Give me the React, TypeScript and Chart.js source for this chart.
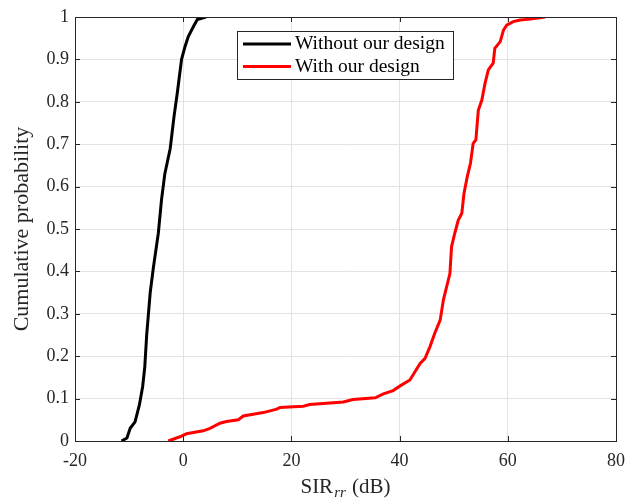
import React, { useEffect, useRef } from "react";
import { Chart, registerables } from "chart.js";

Chart.register(...registerables);

// ---- data ----
const xTickValues = [-20, 0, 20, 40, 60, 80];
const yTickValues = [0, 0.1, 0.2, 0.3, 0.4, 0.5, 0.6, 0.7, 0.8, 0.9, 1];
const seriesLabels = ["Without our design", "With our design"];
const seriesColors = ["#000000", "#ff0000"];

const withoutX = [-11.4, -10.4, -9.8, -8.9, -8.1, -7.5, -7.1, -6.75, -6.1, -5.5, -4.6, -4.0, -3.4, -2.4, -1.7, -1.1, -0.3, 0.33, 0.94, 1.87, 2.6, 4.2];
const withoutY = [0, 0.007, 0.03, 0.045, 0.085, 0.128, 0.175, 0.25, 0.35, 0.41, 0.49, 0.57, 0.63, 0.69, 0.765, 0.82, 0.9, 0.93, 0.954, 0.977, 0.994, 1.0];

const withX = [-2.75, -0.6, 0.6, 3.7, 4.95, 6.8, 8.0, 10.2, 11.1, 14.8, 17.3, 17.9, 22.2, 23.4, 29.6, 31.4, 35.5, 37.0, 38.8, 40.1, 41.9, 43.8, 44.7, 45.6, 46.5, 47.5, 48.1, 48.7, 49.3, 49.6, 50.2, 50.85, 51.5, 51.9, 52.5, 53.1, 53.6, 54.1, 54.55, 55.2, 55.8, 56.4, 57.3, 57.6, 58.6, 59.2, 59.8, 61.0, 62.3, 64.1, 66.9];
const withY = [0, 0.01, 0.017, 0.024, 0.03, 0.042, 0.046, 0.05, 0.059, 0.067, 0.075, 0.079, 0.082, 0.086, 0.092, 0.098, 0.102, 0.111, 0.119, 0.13, 0.144, 0.183, 0.195, 0.222, 0.254, 0.285, 0.333, 0.364, 0.395, 0.458, 0.49, 0.521, 0.537, 0.584, 0.623, 0.655, 0.702, 0.71, 0.78, 0.804, 0.844, 0.875, 0.891, 0.926, 0.942, 0.969, 0.981, 0.989, 0.993, 0.995, 1.0];

const xTitleMain = "SIR";
const xTitleSub = "rr";
const xTitleUnit = " (dB)";
const yTitle = "Cumulative probability";

const FONT = "'Liberation Serif', 'Times New Roman', serif";
const AXIS_COLOR = "#262626";

const toPoints = (xs: number[], ys: number[]) => xs.map((x, i) => ({ x, y: ys[i] }));

const matlabPlugin = {
  id: "matlabDecor",
  afterDraw(chart: any) {
    const ctx: CanvasRenderingContext2D = chart.ctx;
    const { left, right, top, bottom } = chart.chartArea;
    const xs = chart.scales.x;
    const ys = chart.scales.y;
    ctx.save();
    // frame
    ctx.strokeStyle = AXIS_COLOR;
    ctx.lineWidth = 1;
    ctx.strokeRect(Math.round(left) + 0.5, Math.round(top) + 0.5, Math.round(right - left), Math.round(bottom - top));
    // inward ticks
    const tl = 5;
    ctx.beginPath();
    xTickValues.forEach((v) => {
      const px = Math.round(xs.getPixelForValue(v)) + 0.5;
      ctx.moveTo(px, bottom);
      ctx.lineTo(px, bottom - tl);
      ctx.moveTo(px, top);
      ctx.lineTo(px, top + tl);
    });
    yTickValues.forEach((v) => {
      const py = Math.round(ys.getPixelForValue(v)) + 0.5;
      ctx.moveTo(left, py);
      ctx.lineTo(left + tl, py);
      ctx.moveTo(right, py);
      ctx.lineTo(right - tl, py);
    });
    ctx.stroke();

    // x title with subscript
    ctx.fillStyle = AXIS_COLOR;
    ctx.textBaseline = "alphabetic";
    const mainFont = `21px ${FONT}`;
    const subFont = `italic 15px ${FONT}`;
    ctx.font = mainFont;
    const w1 = ctx.measureText(xTitleMain).width;
    const w3 = ctx.measureText(xTitleUnit).width;
    ctx.font = subFont;
    const w2 = ctx.measureText(xTitleSub).width;
    const total = w1 + w2 + w3 + 2;
    let cx = (left + right) / 2 - total / 2;
    const baseY = bottom + 52;
    ctx.textAlign = "left";
    ctx.font = mainFont;
    ctx.fillText(xTitleMain, cx, baseY);
    cx += w1 + 1;
    ctx.font = subFont;
    ctx.fillText(xTitleSub, cx, baseY + 4);
    cx += w2 + 1;
    ctx.font = mainFont;
    ctx.fillText(xTitleUnit, cx, baseY);

    // y title
    ctx.save();
    ctx.translate(22, (top + bottom) / 2);
    ctx.rotate(-Math.PI / 2);
    ctx.textAlign = "center";
    ctx.textBaseline = "middle";
    ctx.font = `22px ${FONT}`;
    ctx.fillText(yTitle, 0, 0);
    ctx.restore();

    // legend box
    const bx = left + 162;
    const by = top + 14;
    const bw = 216;
    const bh = 48;
    ctx.fillStyle = "#ffffff";
    ctx.fillRect(bx, by, bw, bh);
    ctx.strokeStyle = AXIS_COLOR;
    ctx.lineWidth = 1;
    ctx.strokeRect(Math.round(bx) + 0.5, Math.round(by) + 0.5, bw, bh);
    ctx.font = `19.5px ${FONT}`;
    ctx.textAlign = "left";
    ctx.textBaseline = "middle";
    chart.data.datasets.forEach((ds: any, i: number) => {
      const ry = by + 13 + i * 22.5;
      ctx.strokeStyle = ds.borderColor;
      ctx.lineWidth = 3;
      ctx.beginPath();
      ctx.moveTo(bx + 6, ry);
      ctx.lineTo(bx + 54, ry);
      ctx.stroke();
      ctx.fillStyle = "#000000";
      ctx.fillText(ds.label, bx + 58, ry);
    });
    ctx.restore();
  },
};

export default function App() {
  const ref = useRef<HTMLCanvasElement | null>(null);
  useEffect(() => {
    document.body.style.margin = "0";
    if (!ref.current) return;
    const chart = new Chart(ref.current, {
      type: "scatter",
      data: {
        datasets: [
          {
            label: seriesLabels[0],
            data: toPoints(withoutX, withoutY),
            borderColor: seriesColors[0],
            backgroundColor: seriesColors[0],
            showLine: true,
            pointRadius: 0,
            borderWidth: 3,
            tension: 0,
          },
          {
            label: seriesLabels[1],
            data: toPoints(withX, withY),
            borderColor: seriesColors[1],
            backgroundColor: seriesColors[1],
            showLine: true,
            pointRadius: 0,
            borderWidth: 3,
            tension: 0,
          },
        ],
      },
      options: {
        animation: false,
        responsive: true,
        maintainAspectRatio: false,
        layout: { padding: { top: 17, right: 20, left: 0, bottom: 0 } },
        plugins: {
          legend: { display: false },
          tooltip: { enabled: false },
        },
        scales: {
          x: {
            type: "linear",
            min: -20,
            max: 80,
            afterBuildTicks: (s: any) => {
              s.ticks = xTickValues.map((v) => ({ value: v }));
            },
            afterFit: (s: any) => {
              s.height = 58;
            },
            ticks: {
              font: { family: FONT, size: 18 },
              color: AXIS_COLOR,
              padding: 9,
              maxRotation: 0,
            },
            grid: { color: "#e2e2e2", lineWidth: 1, drawTicks: false },
            border: { display: false },
          },
          y: {
            type: "linear",
            min: 0,
            max: 1,
            afterBuildTicks: (s: any) => {
              s.ticks = yTickValues.map((v) => ({ value: v }));
            },
            afterFit: (s: any) => {
              s.width = 75;
            },
            ticks: {
              font: { family: FONT, size: 18 },
              color: AXIS_COLOR,
              padding: 6,
              callback: (v: any) => String(Math.round(Number(v) * 10) / 10),
            },
            grid: { color: "#e2e2e2", lineWidth: 1, drawTicks: false },
            border: { display: false },
          },
        },
      },
      plugins: [matlabPlugin],
    });
    return () => chart.destroy();
  }, []);
  return (
    <div style={{ position: "absolute", left: 0, top: 0, width: 636, height: 499, background: "#fff" }}>
      <canvas ref={ref} />
    </div>
  );
}
